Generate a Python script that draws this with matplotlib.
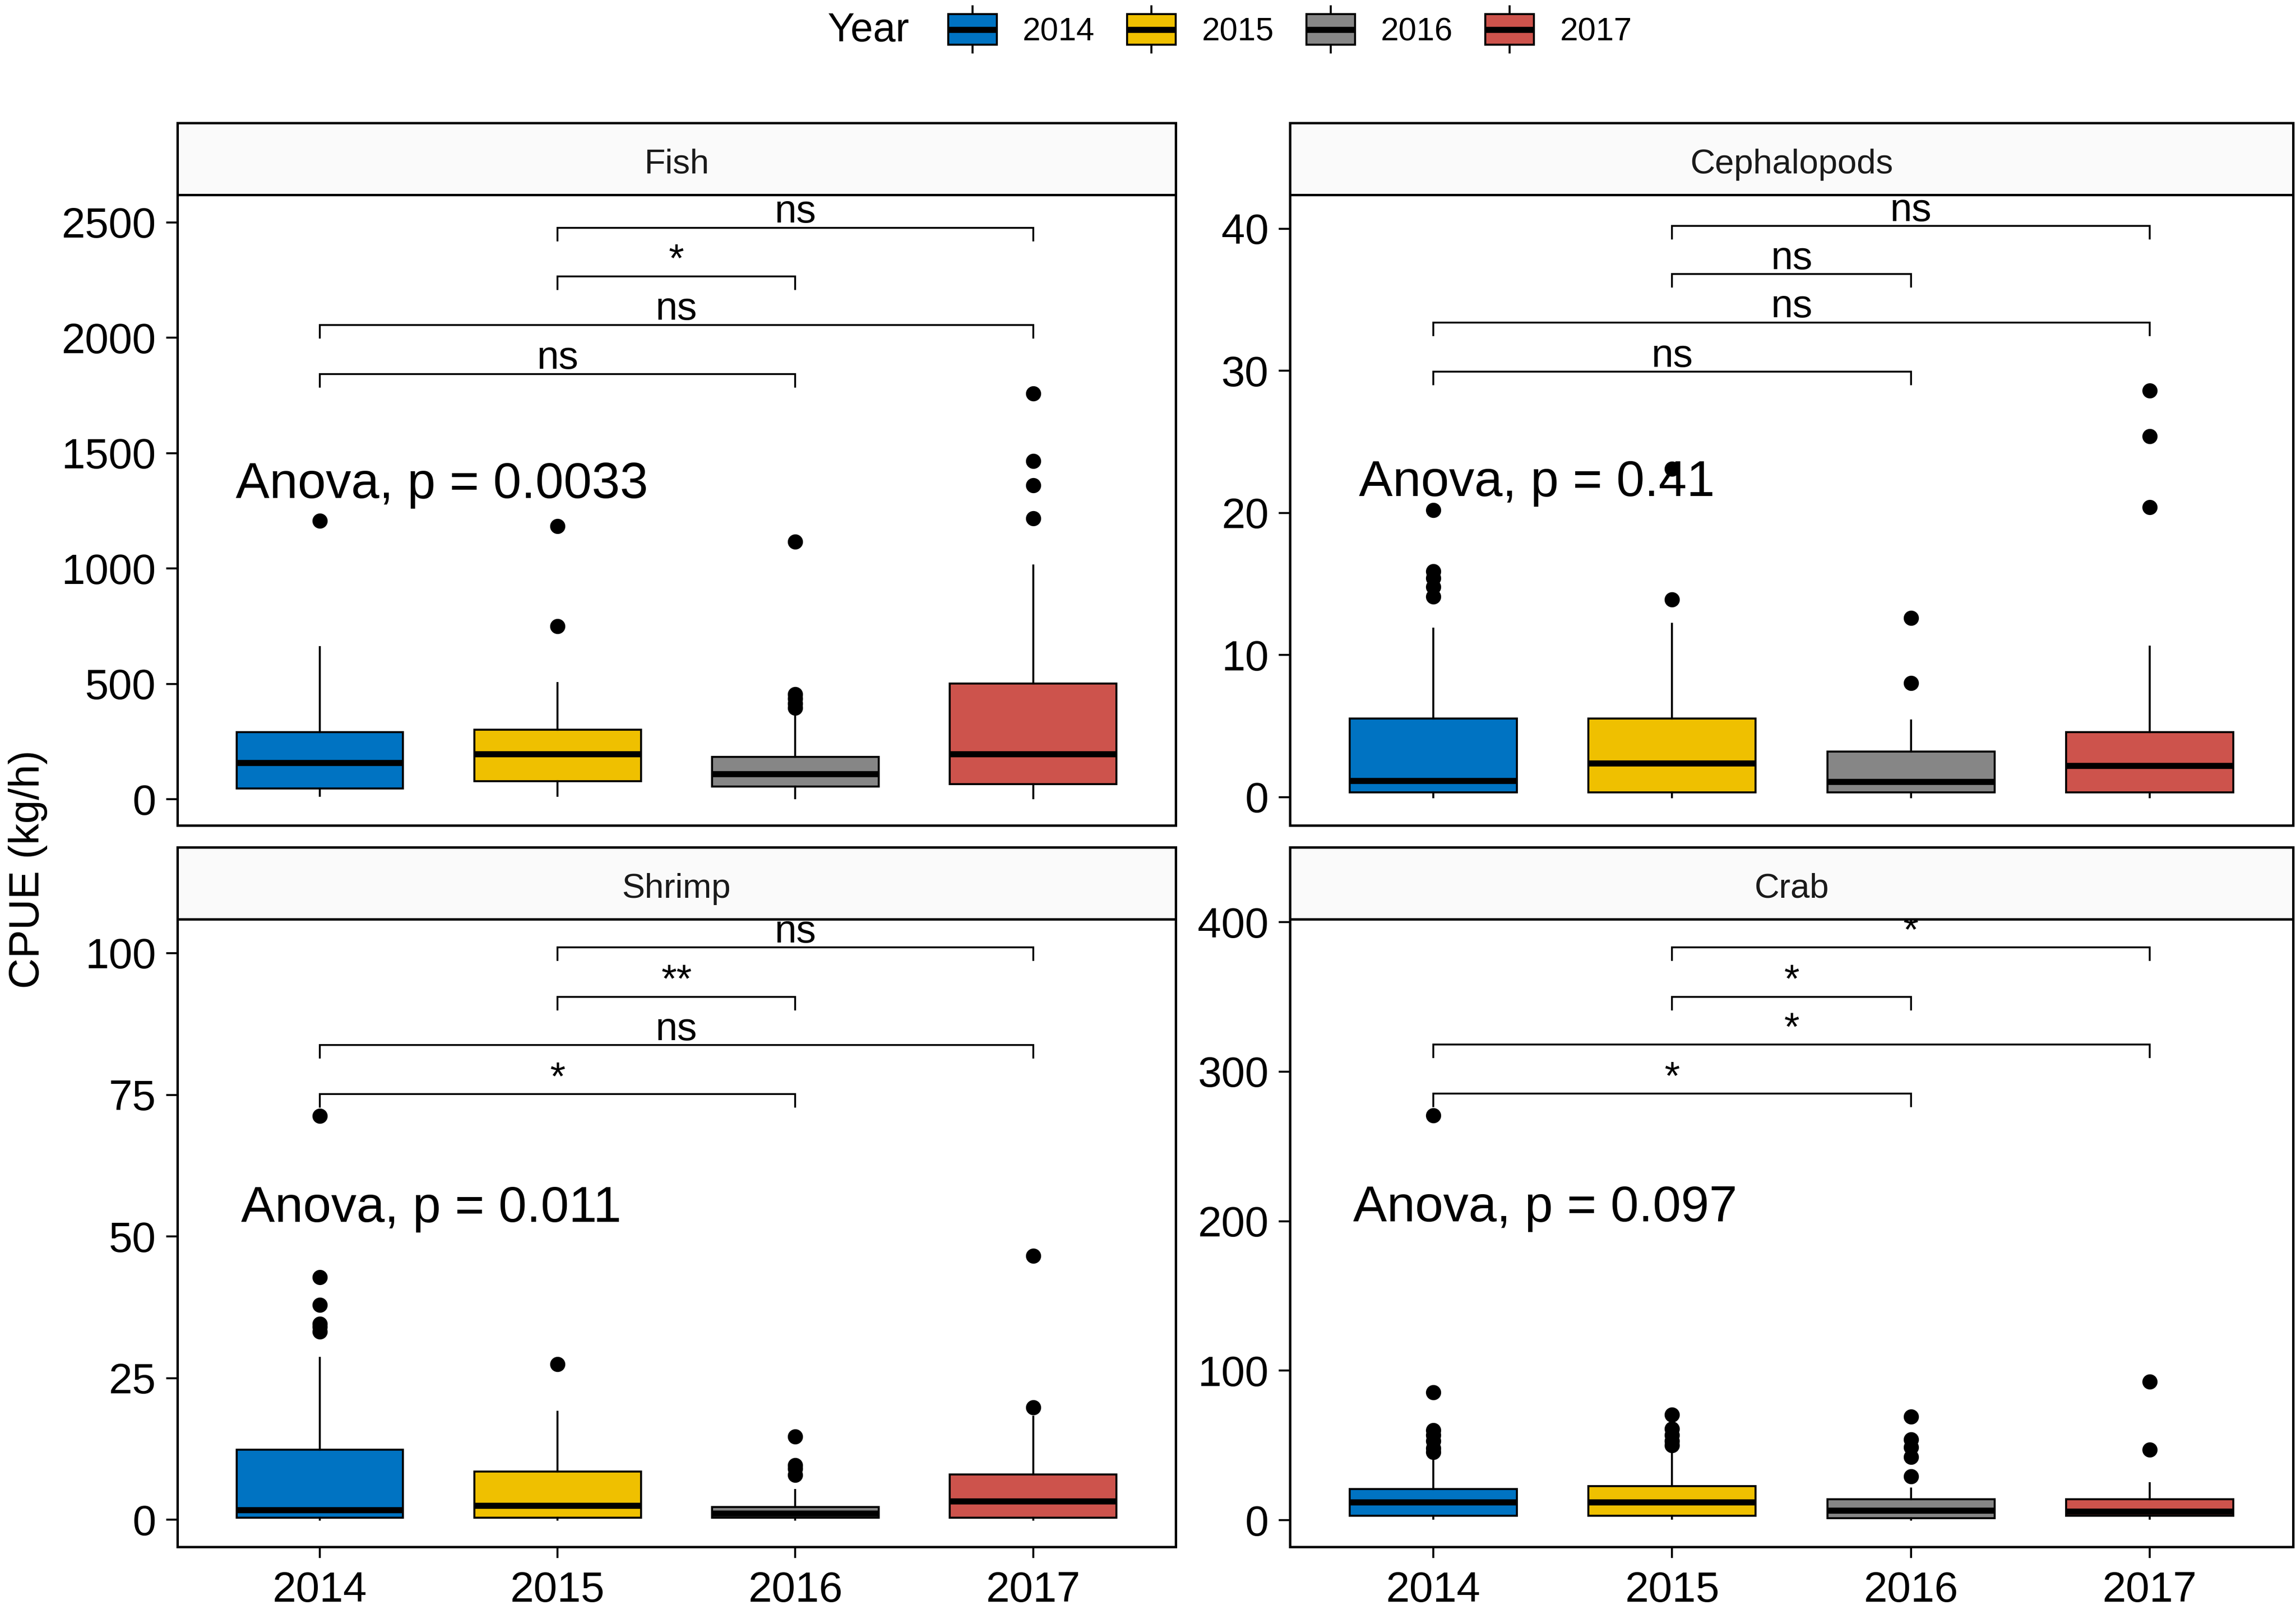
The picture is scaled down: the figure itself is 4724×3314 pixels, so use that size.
import numpy as np
import matplotlib
matplotlib.use("Agg")
import matplotlib.pyplot as plt
from matplotlib.patches import Patch, Rectangle
from matplotlib.lines import Line2D
from matplotlib.legend_handler import HandlerBase

plt.rcParams['font.family'] = ['Liberation Sans', 'DejaVu Sans']

# datos
years = ['2014', '2015', '2016', '2017']
colores = ['#0073C2', '#EFC000', '#868686', '#CD534C']
grupos = ['Fish', 'Cephalopods', 'Shrimp', 'Crab']

fish_q1 = [46, 78, 55, 66]
fish_med = [158, 195, 110, 195]
fish_q3 = [291, 302, 183, 501]
fish_lo = [15, 15, 5, 5]
fish_hi = [659, 504, 380, 1012]
fish_out = [[1206], [749, 1184], [395, 415, 435, 455, 1115], [1218, 1360, 1465, 1758]]

ceph_q1 = [0.34, 0.34, 0.34, 0.34]
ceph_med = [1.15, 2.37, 1.08, 2.2]
ceph_q3 = [5.53, 5.53, 3.22, 4.58]
ceph_lo = [0.0, 0.0, 0.0, 0.0]
ceph_hi = [11.86, 12.2, 5.39, 10.58]
ceph_out = [[14.1, 14.8, 15.4, 15.9, 20.2], [13.9, 23.1], [8.03, 12.6], [20.4, 25.4, 28.6]]

shrimp_q1 = [0.35, 0.35, 0.35, 0.35]
shrimp_med = [1.76, 2.56, 1.15, 3.26]
shrimp_q3 = [12.35, 8.55, 2.29, 8.0]
shrimp_lo = [0.0, 0.0, 0.0, 0.0]
shrimp_hi = [28.6, 19.1, 5.3, 18.25]
shrimp_out = [[33.2, 34.1, 34.6, 37.9, 42.8, 71.3], [27.5], [7.9, 9.0, 9.6, 14.7], [19.8, 46.6]]

crab_q1 = [3.0, 3.0, 1.3, 3.0]
crab_med = [11.9, 11.9, 6.5, 5.9]
crab_q3 = [20.8, 22.7, 13.9, 13.9]
crab_lo = [1.1, 1.1, 0.5, 1.1]
crab_hi = [40.6, 46.5, 21.1, 24.7]
crab_out = [[45.5, 48, 53, 57, 60, 85.5, 270.8], [50, 53, 57, 61, 70.4],
            [29.2, 42.2, 48.7, 54.1, 69.2], [47.1, 92.5]]

# comparaciones (pares, altura, etiqueta)
pares = [(1, 3), (1, 4), (2, 3), (2, 4)]
fish_br_y = [1843, 2056, 2266, 2477]
fish_br_lab = ['ns', 'ns', '*', 'ns']
ceph_br_y = [29.93, 33.4, 36.8, 40.2]
ceph_br_lab = ['ns', 'ns', 'ns', 'ns']
shrimp_br_y = [75.1, 83.8, 92.3, 101.0]
shrimp_br_lab = ['*', 'ns', '**', 'ns']
crab_br_y = [285.2, 318, 350.1, 383]
crab_br_lab = ['*', '*', '*', '*']

anova_txt = ['Anova, p = 0.0033', 'Anova, p = 0.41', 'Anova, p = 0.011', 'Anova, p = 0.097']
anova_x = [0.647, 0.688, 0.668, 0.664]
anova_y = [1305, 21.2, 52.6, 200]

ylims = [(-114, 2620), (-2.0, 42.4), (-4.8, 106), (-18, 402)]
yticks = [[0, 500, 1000, 1500, 2000, 2500], [0, 10, 20, 30, 40],
          [0, 25, 50, 75, 100], [0, 100, 200, 300, 400]]

datos = [
    (fish_q1, fish_med, fish_q3, fish_lo, fish_hi, fish_out, fish_br_y, fish_br_lab),
    (ceph_q1, ceph_med, ceph_q3, ceph_lo, ceph_hi, ceph_out, ceph_br_y, ceph_br_lab),
    (shrimp_q1, shrimp_med, shrimp_q3, shrimp_lo, shrimp_hi, shrimp_out, shrimp_br_y, shrimp_br_lab),
    (crab_q1, crab_med, crab_q3, crab_lo, crab_hi, crab_out, crab_br_y, crab_br_lab),
]

W, H = 1568, 1100  # coordenadas de referencia
def fx(px):
    return px / W
def fy(py):
    return 1 - py / H

# posiciones de paneles [izq, der] y [arriba, abajo]
cols = [(121, 803), (881, 1566)]
rows = [(84, 133, 564), (579, 628, 1057)]

fig = plt.figure(figsize=(4724 / 300, 3314 / 300), dpi=300)

lw_box = 1.0
lw_med = 3.0
lw_frame = 1.2

for k in range(4):
    r, c = divmod(k, 2)
    x0, x1 = cols[c]
    st, top, bot = rows[r]
    ax = fig.add_axes([fx(x0), fy(bot), fx(x1) - fx(x0), fy(top) - fy(bot)])
    q1, med, q3, lo, hi, out, br_y, br_lab = datos[k]

    stats = []
    for i in range(4):
        stats.append(dict(q1=q1[i], med=med[i], q3=q3[i], whislo=lo[i], whishi=hi[i],
                          fliers=out[i], label=years[i]))
    bp = ax.bxp(stats, positions=[1, 2, 3, 4], widths=0.7, patch_artist=True,
                showcaps=False,
                boxprops=dict(edgecolor='black', linewidth=lw_box),
                medianprops=dict(color='black', linewidth=lw_med, solid_capstyle='butt'),
                whiskerprops=dict(color='black', linewidth=lw_box),
                flierprops=dict(marker='o', markerfacecolor='black', markeredgecolor='black',
                                markersize=6.5, linestyle='none'))
    for patch, col in zip(bp['boxes'], colores):
        patch.set_facecolor(col)

    ymin, ymax = ylims[k]
    tip = 0.02 * (ymax - ymin)
    for (a, b), yy, lab in zip(pares, br_y, br_lab):
        ax.plot([a, a, b, b], [yy - tip, yy, yy, yy - tip], color='black', lw=0.9,
                solid_joinstyle='miter')
        ax.annotate(lab, xy=((a + b) / 2, yy), xytext=(0, 2.5), textcoords='offset points',
                    ha='center', va='baseline', fontsize=19.5, clip_on=True)

    ax.text(anova_x[k], anova_y[k], anova_txt[k], fontsize=25, ha='left', va='baseline')

    ax.set_xlim(0.4, 4.6)
    ax.set_ylim(ymin, ymax)
    ax.set_yticks(yticks[k])
    ax.set_yticklabels([str(t) for t in yticks[k]])
    ax.set_xticks([1, 2, 3, 4])
    ax.set_xticklabels(years)
    ax.tick_params(axis='both', direction='out', length=5.5, width=1.0, labelsize=21,
                   colors='black', pad=5)
    ax.tick_params(axis='x', pad=6.5)
    if r == 0:
        ax.tick_params(axis='x', bottom=False, labelbottom=False)
    for sp in ax.spines.values():
        sp.set_linewidth(lw_frame)
        sp.set_color('black')

    # franja con el nombre del grupo
    sax = fig.add_axes([fx(x0), fy(top), fx(x1) - fx(x0), fy(st) - fy(top)])
    sax.set_facecolor('#FAFAFA')
    sax.set_xticks([])
    sax.set_yticks([])
    for sp in sax.spines.values():
        sp.set_linewidth(lw_frame)
        sp.set_color('black')
    sax.text(0.5, 0.42, grupos[k], transform=sax.transAxes, ha='center', va='center',
             fontsize=17, color='#1A1A1A')
    sax.set_zorder(ax.get_zorder() + 1)


# leyenda con forma de boxplot
class BoxKey(HandlerBase):
    def create_artists(self, legend, orig_handle, xdescent, ydescent, width, height,
                       fontsize, trans):
        x0, y0 = -xdescent, -ydescent
        cx = x0 + width / 2
        ext = height * 0.25
        w1 = Line2D([cx, cx], [y0 - ext, y0], color='black', lw=lw_box, transform=trans)
        w2 = Line2D([cx, cx], [y0 + height, y0 + height + ext], color='black', lw=lw_box,
                    transform=trans)
        rect = Rectangle((x0, y0), width, height, facecolor=orig_handle.get_facecolor(),
                         edgecolor='black', lw=lw_box, transform=trans)
        med = Line2D([x0, x0 + width], [y0 + height / 2] * 2, color='black', lw=lw_med,
                     solid_capstyle='butt', transform=trans)
        return [w1, w2, rect, med]

handles = [Patch(facecolor=c) for c in colores]
fig.legend(handles, years, handler_map={Patch: BoxKey()}, loc='center',
           bbox_to_anchor=(fx(881), fy(21)), ncol=4, frameon=False, fontsize=16,
           handlelength=1.5, handleheight=1.08, handletextpad=0.8, columnspacing=1.0,
           borderpad=0)
fig.text(fx(565), fy(21), 'Year', fontsize=20, ha='left', va='center')

fig.text(fx(19), fy(594), 'CPUE (kg/h)', fontsize=21, rotation=90, ha='center', va='center')

fig.savefig('out.png', dpi=300)
